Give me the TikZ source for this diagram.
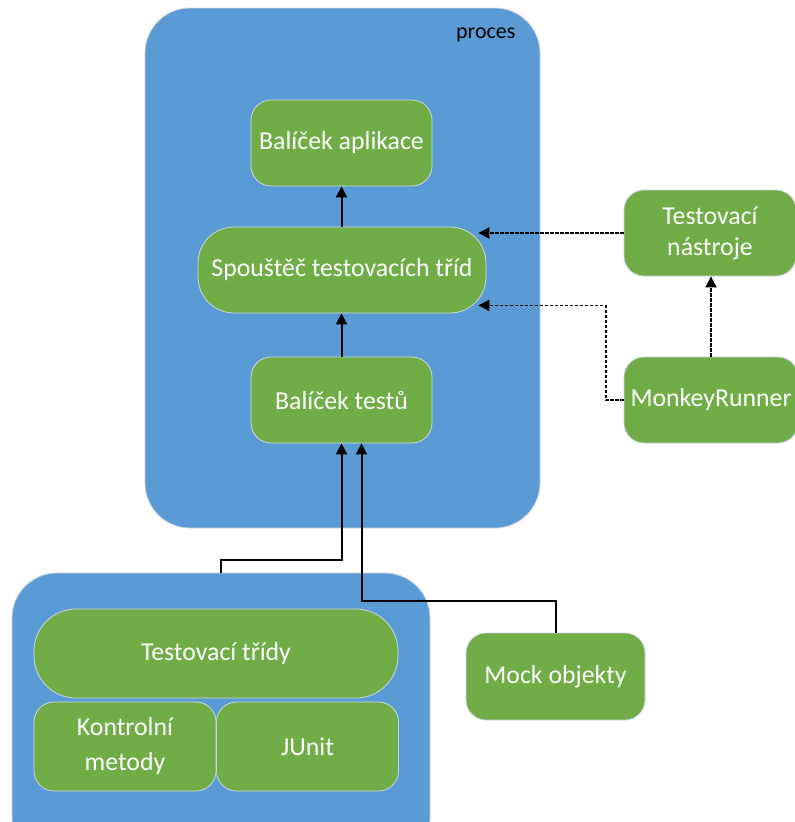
\documentclass[tikz,border=0pt]{standalone}
\usepackage{fontspec}
\setmainfont{Carlito}
\usetikzlibrary{arrows.meta}
\definecolor{bluebg}{HTML}{5B9BD5}
\definecolor{greenbox}{HTML}{70AD47}
\definecolor{edgegray}{HTML}{C9D3DC}
\begin{document}
\begin{tikzpicture}[x=1pt,y=-1pt,
 container/.style={rectangle, fill=bluebg, draw=edgegray, line width=0.8pt, rounded corners=45pt, inner sep=0pt},
 gbox/.style={rectangle, fill=greenbox, draw=edgegray, line width=0.8pt, rounded corners=20pt, text=white, align=center, font=\fontsize{25.8}{31}\selectfont, inner sep=0pt},
 solidarrow/.style={line width=2pt, -{Triangle[length=11pt,width=11pt]}},
 dasharrow/.style={line width=1.8pt, dash pattern=on 3.5pt off 1.5pt, -{Triangle[length=11pt,width=11pt]}}]
\useasboundingbox (0,0) rectangle (795,822);
\clip (0,0) rectangle (795,822);
% containers
\node[container, minimum width=395pt, minimum height=520pt] (proc) at (342.5,268) {};
\node[anchor=east, font=\fontsize{22}{26}\selectfont] (proclbl) at (519,35) {proces};
\node[container, minimum width=418pt, minimum height=290pt] (bb) at (221,718) {};
% green boxes
\node[gbox, minimum width=181pt, minimum height=86pt] (app) at (341.5,143) {Balíček aplikace};
\node[gbox, minimum width=288pt, minimum height=86pt, rounded corners=36pt] (spou) at (342,270) {Spouštěč testovacích tříd};
\node[gbox, minimum width=181pt, minimum height=86pt] (bt) at (341.5,400) {Balíček testů};
\node[gbox, minimum width=172pt, minimum height=86pt] (tools) at (710,233) {Testovací\\nástroje};
\node[gbox, minimum width=174pt, minimum height=86pt] (monkey) at (711,400) {MonkeyRunner};
\node[gbox, minimum width=364pt, minimum height=89pt, rounded corners=42pt] (tt) at (216,653.5) {Testovací třídy};
\node[gbox, minimum width=182pt, minimum height=89pt, font=\fontsize{25.8}{35}\selectfont] (km) at (125,746.5) {Kontrolní\\metody};
\node[gbox, minimum width=182pt, minimum height=89pt] (junit) at (307.5,746.5) {JUnit};
\node[gbox, minimum width=179pt, minimum height=87pt] (mock) at (555.5,676.5) {Mock objekty};
% connectors
\draw[solidarrow] (spou.north -| app.south) -- (app.south);
\draw[solidarrow] (bt.north) -- (bt.north |- spou.south);
\draw[solidarrow] (bb.north) -- ++(0,-13) -| (bt.south);
\draw[solidarrow] (mock.north) -- ++(0,-32) -| ([xshift=20pt]bt.south);
\draw[dasharrow] (tools.west) -- ([xshift=-8pt]tools.west -| spou.east);
\draw[dasharrow] (monkey.west) -- ++(-18,0) |- ([xshift=-8pt,yshift=8pt]spou.south east);
\draw[dasharrow] (monkey.north) -- (monkey.north |- tools.south);
\end{tikzpicture}
\end{document}
